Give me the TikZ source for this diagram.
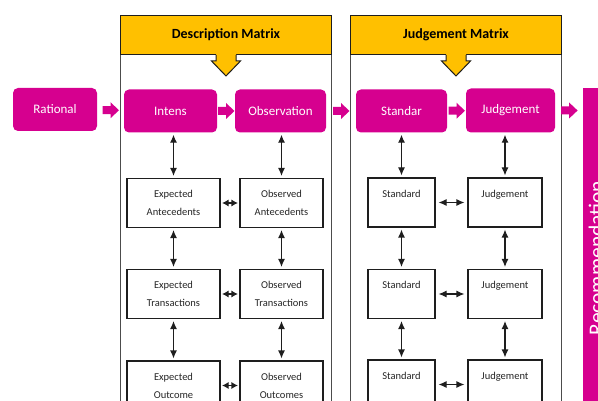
\documentclass[tikz,border=0pt]{standalone}
\usepackage{fontspec}
\setmainfont{Carlito}
\usetikzlibrary{arrows.meta,calc}
\definecolor{pinkc}{RGB}{214,0,143}
\definecolor{yelc}{RGB}{255,192,0}
\definecolor{linec}{RGB}{30,30,30}
\tikzset{
  pinkbox/.style={fill=pinkc, rounded corners=5pt, text=white, font=\fontsize{13}{15}\selectfont, inner sep=0pt},
  whitebox/.style={draw=linec, line width=1.1pt, fill=white, align=center, inner sep=0pt, text=black!85, font=\fontsize{10.5}{18}\selectfont},
  outerbox/.style={draw=black!70, line width=1.2pt, inner sep=0pt},
  headbox/.style={draw=linec, line width=1pt, fill=yelc, inner sep=0pt, font=\bfseries\fontsize{14}{16}\selectfont, text=black},
  dbl/.style={{Latex[length=8pt,width=7pt]}-{Latex[length=8pt,width=7pt]}, line width=1.1pt, draw=linec, shorten >=2pt, shorten <=2pt},
  dbls/.style={{Latex[length=6.5pt,width=7pt]}-{Latex[length=6.5pt,width=7pt]}, line width=1.1pt, draw=linec, shorten >=1.5pt, shorten <=1.5pt},
  parrow/.pic={
    \fill[pinkc] (-8,-4) -- (0,-4) -- (0,-8) -- (8.5,0) -- (0,8) -- (0,4) -- (-8,4) -- cycle;
  },
  yarrow/.pic={
    \fill[yelc] (-10,-1.5) -- (-10,6) -- (-14.5,6) -- (0,21) -- (14.5,6) -- (10,6) -- (10,-1.5) -- cycle;
    \draw[linec, line width=1pt, line join=miter] (-10,0) -- (-10,6) -- (-14.5,6) -- (0,21) -- (14.5,6) -- (10,6) -- (10,0);
  }
}
\begin{document}
\begin{tikzpicture}[x=1pt,y=-1pt]
\useasboundingbox (0,0) rectangle (598,401);
\begin{scope}
\clip (0,0) rectangle (598,401);
% outer matrix boxes
\node[outerbox, minimum width=211pt, minimum height=420pt, anchor=north west] (dmbox) at (120,15) {};
\node[outerbox, minimum width=211pt, minimum height=420pt, anchor=north west] (jmbox) at (350,15) {};
% headers
\node[headbox, minimum width=211pt, minimum height=39pt, anchor=north west] (dmh) at (120,15) {Description Matrix};
\node[headbox, minimum width=211pt, minimum height=39pt, anchor=north west] (jmh) at (350,15) {Judgement Matrix};
\pic at (dmh.south) {yarrow};
\pic at (jmh.south) {yarrow};
% pink boxes
\node[pinkbox, minimum width=84pt, minimum height=43pt] (rational) at (55,109.5) {Rational};
\node[pinkbox, minimum width=93pt, minimum height=43pt] (intens) at (170.5,111) {Intens};
\node[pinkbox, minimum width=91pt, minimum height=43pt] (obs) at (280.5,111) {Observation};
\node[pinkbox, minimum width=91pt, minimum height=43pt] (standar) at (401.5,111) {Standar};
\node[pinkbox, minimum width=89pt, minimum height=44pt] (judg) at (510.5,110.5) {Judgement};
\node[fill=pinkc, inner sep=0pt, minimum width=37pt, minimum height=342pt, anchor=north west] (rec) at (583,88) {};
\node[rotate=90, anchor=base, text=white, inner sep=0pt, font=\fontsize{21.5}{24}\selectfont] (rectext) at (603.5,258) {Recommendation};
% block arrows
\pic at ($(rational.east)!0.5!(intens.west)$) {parrow};
\pic at ($(intens.east)!0.5!(obs.west)$) {parrow};
\pic at ($(obs.east)!0.5!(standar.west)$) {parrow};
\pic at ($(standar.east)!0.5!(judg.west)$) {parrow};
\pic at ($(judg.east)!0.5!(judg.east -| rec.west)$) {parrow};
% description matrix boxes
\node[whitebox, minimum width=93pt, minimum height=49pt] (ea) at (173.5,203) {Expected\\Antecedents};
\node[whitebox, minimum width=83pt, minimum height=49pt] (oa) at (281.5,203) {Observed\\Antecedents};
\node[whitebox, minimum width=93pt, minimum height=49pt] (et) at (173.5,294) {Expected\\Transactions};
\node[whitebox, minimum width=83pt, minimum height=49pt] (ot) at (281.5,294) {Observed\\Transactions};
\node[whitebox, minimum width=93pt, minimum height=49pt] (eo) at (173.5,385.5) {Expected\\Outcome};
\node[whitebox, minimum width=83pt, minimum height=49pt] (oo) at (281.5,385.5) {Observed\\Outcomes};
% judgement matrix boxes
\node[whitebox, minimum width=67pt, minimum height=49pt] (s1) at (401.5,202.5) {Standard\\\mbox{}};
\node[whitebox, minimum width=74pt, minimum height=49pt] (j1) at (505,202.5) {Judgement\\\mbox{}};
\node[whitebox, minimum width=67pt, minimum height=49pt] (s2) at (401.5,294) {Standard\\\mbox{}};
\node[whitebox, minimum width=74pt, minimum height=49pt] (j2) at (505,294) {Judgement\\\mbox{}};
\node[whitebox, minimum width=67pt, minimum height=49pt] (s3) at (401.5,384.5) {Standard\\\mbox{}};
\node[whitebox, minimum width=74pt, minimum height=49pt] (j3) at (505,384.5) {Judgement\\\mbox{}};
% vertical arrows
\draw[dbl] (intens.south -| ea.north) -- (ea.north);
\draw[dbl] (obs.south -| oa.north) -- (oa.north);
\draw[dbl] (ea) -- (et);
\draw[dbl] (oa) -- (ot);
\draw[dbl] (et) -- (eo);
\draw[dbl] (ot) -- (oo);
\draw[dbl] (standar.south -| s1.north) -- (s1.north);
\draw[dbl] (judg.south -| j1.north) -- (j1.north);
\draw[dbl] (s1) -- (s2);
\draw[dbl] (j1) -- (j2);
\draw[dbl] (s2) -- (s3);
\draw[dbl] (j2) -- (j3);
% horizontal arrows
\draw[dbls] (ea) -- (oa);
\draw[dbls] (et) -- (ot);
\draw[dbls] (eo) -- (oo);
\draw[dbl, shorten >=3pt, shorten <=3pt] (s1) -- (j1);
\draw[dbl, shorten >=3pt, shorten <=3pt] (s2) -- (j2);
\draw[dbl, shorten >=3pt, shorten <=3pt] (s3) -- (j3);
\end{scope}
\end{tikzpicture}
\end{document}
